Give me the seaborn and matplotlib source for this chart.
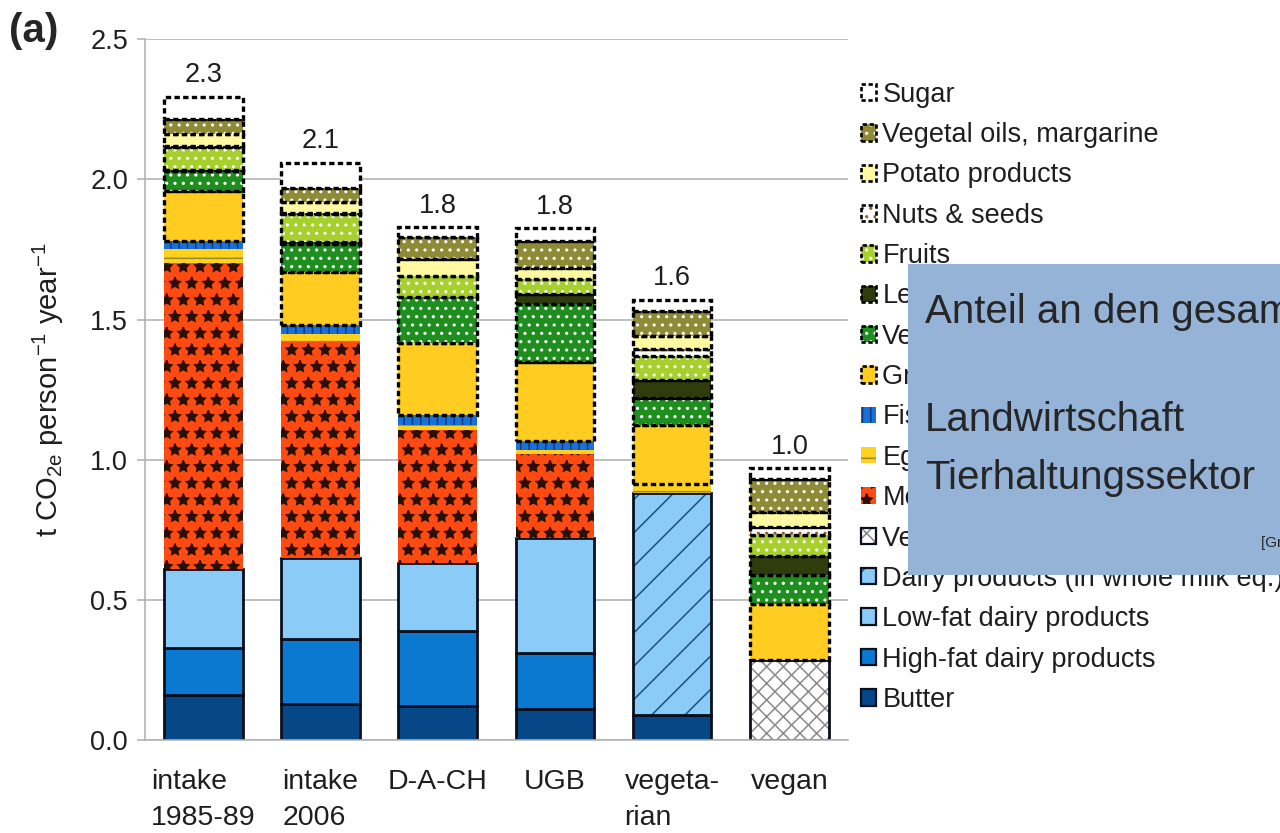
import numpy as np
import matplotlib
matplotlib.use("Agg")
import matplotlib.pyplot as plt
from matplotlib.patches import Patch, Rectangle
from matplotlib.legend_handler import HandlerTuple
from matplotlib import font_manager
import seaborn as sns

# ---------------------------------------------------------------- data
diets = ["intake 1985-89", "intake 2006", "D-A-CH", "UGB", "vegetarian", "vegan"]
diet_labels = ["intake\n1985-89", "intake\n2006", "D-A-CH", "UGB", "vegeta-\nrian", "vegan"]

# t CO2e per person and year, listed from the bottom of each stack upwards
butter      = [0.16, 0.13, 0.12, 0.11, 0.09, 0.0]
high_fat    = [0.17, 0.23, 0.27, 0.20, 0.0, 0.0]
low_fat     = [0.28, 0.29, 0.24, 0.41, 0.0, 0.0]
dairy_wm    = [0.0, 0.0, 0.0, 0.0, 0.79, 0.0]
vegan_subst = [0.0, 0.0, 0.0, 0.0, 0.0, 0.285]
meat        = [1.09, 0.77, 0.475, 0.30, 0.0, 0.0]
eggs        = [0.05, 0.03, 0.02, 0.015, 0.035, 0.0]
fish        = [0.03, 0.03, 0.035, 0.03, 0.0, 0.0]
grain       = [0.18, 0.19, 0.255, 0.285, 0.21, 0.20]
vegetables  = [0.07, 0.10, 0.165, 0.205, 0.095, 0.105]
legumes     = [0.005, 0.005, 0.0, 0.035, 0.065, 0.065]
fruits      = [0.08, 0.10, 0.075, 0.055, 0.085, 0.075]
nuts        = [0.005, 0.005, 0.0, 0.0, 0.025, 0.03]
potato      = [0.04, 0.04, 0.06, 0.04, 0.045, 0.055]
oils        = [0.055, 0.05, 0.08, 0.095, 0.09, 0.115]
sugar       = [0.08, 0.09, 0.035, 0.045, 0.04, 0.04]

y_ticks = [0.0, 0.5, 1.0, 1.5, 2.0, 2.5]

# (legend label, values, fill colour, hatch, hatch colour, border style)
layers = [
    ("Butter", butter, "#064887", None, None, "solid"),
    ("High-fat dairy products", high_fat, "#0B79CF", None, None, "solid"),
    ("Low-fat dairy products", low_fat, "#8ACBF8", None, None, "solid"),
    ("Dairy products (in whole milk eq.)", dairy_wm, "#8ACBF8", "/", "#1F4F80", "solid"),
    ("Vegan substitutes", vegan_subst, "#FFFFFF", "xx", "#8A8A8A", "solid"),
    ("Meat", meat, "#FF4A12", "*", "#2A0F05", None),
    ("Eggs", eggs, "#FFD21E", "-", "#9A8A2A", None),
    ("Fish", fish, "#1B70D6", "||", "#0B3A8A", None),
    ("Grain products", grain, "#FFCC22", None, None, "dashed"),
    ("Vegetables", vegetables, "#1E8F1E", "..", "#FFFFFF", "dashed"),
    ("Legumes", legumes, "#2F3C0C", None, None, "dashed"),
    ("Fruits", fruits, "#A8D02C", "..", "#FFFFFF", "dashed"),
    ("Nuts & seeds", nuts, "#FFFFFF", "..", "#9A5A24", "dashed"),
    ("Potato products", potato, "#FFFAA2", None, None, "dashed"),
    ("Vegetal oils, margarine", oils, "#8E8A36", "..", "#FFFFFF", "dashed"),
    ("Sugar", sugar, "#FFFFFF", None, None, "dashed"),
]

# ---------------------------------------------------------------- style
sns.set_style("white")
avail = {f.name for f in font_manager.fontManager.ttflist}
base_font = "Liberation Sans" if "Liberation Sans" in avail else "DejaVu Sans"
narrow_font = "Liberation Sans Narrow" if "Liberation Sans Narrow" in avail else base_font
plt.rcParams["font.family"] = [base_font, "DejaVu Sans"]
plt.rcParams["hatch.linewidth"] = 1.1
plt.rcParams["mathtext.fontset"] = "custom"
plt.rcParams["mathtext.rm"] = base_font

BAR_W = 0.67
DASH = (0, (1.6, 1.0))
GRID = "#b4b4b4"
TXT = "#1e1e1e"

fig = plt.figure(figsize=(12.8, 8.33), dpi=100)
ax = fig.add_axes([0.113, 0.1116, 0.5495, 0.8414])


def bars(values, bottoms, **style):
    """Draw one stacked segment per diet with seaborn and restyle the new patches."""
    n0 = len(ax.patches)
    sns.barplot(x=diets, y=values, order=diets, color="white", saturation=1,
                width=BAR_W, errorbar=None, ax=ax)
    for p, v, b in zip(ax.patches[n0:], values, bottoms):
        p.set_y(b)
        p.set(**style)
        p.set_visible(v > 0)


edge_styles = {
    "solid": dict(edgecolor="#0a0f1e", linewidth=2.0, linestyle="solid"),
    "dashed": dict(edgecolor="black", linewidth=2.4, linestyle=DASH),
}

bottom = np.zeros(len(diets))
handles = []
for z, (label, vals, face, hatch, hcol, border) in enumerate(layers):
    vals = np.asarray(vals, dtype=float)
    zb = 2 + z * 0.01
    parts = []
    bars(vals, bottom, facecolor=face, edgecolor="none", linewidth=0, zorder=zb)
    parts.append(Patch(facecolor=face, edgecolor="none", linewidth=0))
    if hatch:
        bars(vals, bottom, facecolor="none", edgecolor=hcol, linewidth=0,
             hatch=hatch, zorder=zb + 0.001)
        parts.append(Patch(facecolor="none", edgecolor=hcol, linewidth=0, hatch=hatch))
    if border:
        bars(vals, bottom, facecolor="none", zorder=zb + 0.002, **edge_styles[border])
        es = dict(edge_styles[border])
        es["linewidth"] = es["linewidth"] * 0.8
        parts.append(Patch(facecolor="none", **es))
    handles.append((tuple(parts), label))
    bottom = bottom + vals

totals = bottom
for i, t in enumerate(totals):
    ax.text(i, t + 0.03, f"{t:.1f}", ha="center", va="bottom", fontsize=19.5, color=TXT)

# ---------------------------------------------------------------- axes
ax.set_xlim(-0.5, 5.5)
ax.set_ylim(0, 2.5)
ax.set_yticks(y_ticks)
ax.set_yticklabels([f"{v:.1f}" for v in y_ticks], fontsize=19.5, color=TXT)
ax.set_xticks(range(len(diets)))
ax.set_xticklabels(diet_labels, fontsize=20.5, color=TXT,
                   linespacing=1.48, multialignment="left")
ax.set_xticks(np.arange(-0.5, 6.0, 1.0), minor=True)
ax.tick_params(axis="x", which="major", length=0, pad=21)
ax.tick_params(axis="x", which="minor", length=10, width=1.2, color=GRID, direction="out")
ax.tick_params(axis="y", length=6, width=1.2, color=GRID, direction="out", pad=6, left=True)
ax.set_xlabel("")
ax.set_ylabel(r"t CO$_{\mathregular{2e}}$ person$^{\mathregular{-1}}$ year$^{\mathregular{-1}}$",
              fontsize=21, labelpad=17, color=TXT)
ax.yaxis.grid(True, color=GRID, linewidth=1.2)
ax.xaxis.grid(False)
ax.set_axisbelow(True)
for side in ("top", "right"):
    ax.spines[side].set_visible(False)
for side in ("left", "bottom"):
    ax.spines[side].set_color(GRID)
    ax.spines[side].set_linewidth(1.2)

fig.text(0.007, 0.963, "(a)", fontsize=29, fontweight="bold", va="center", ha="left")

# legend: top entry first
hs = [h for h, _ in handles][::-1]
ls = [l for _, l in handles][::-1]
fig.legend(hs, ls, handler_map={tuple: HandlerTuple(ndivide=1, pad=0)},
           loc="upper left", bbox_to_anchor=(0.673, 0.902), frameon=False,
           fontsize=19.5, labelspacing=0.53, handlelength=0.55, handleheight=0.55,
           handletextpad=0.22, borderaxespad=0, borderpad=0, labelcolor=TXT)

# annotation panel
fig.patches.append(Rectangle((0.7094, 0.3097), 0.2906, 0.3733, transform=fig.transFigure,
                             facecolor="#95B3D7", edgecolor="none", zorder=20))
fig.text(0.7227, 0.6255, "Anteil an den gesamten Treibhausgasemissionen", fontsize=29,
         family=[narrow_font, "DejaVu Sans"], va="center", ha="left", zorder=21)
fig.text(0.7227, 0.4958, "Landwirtschaft", fontsize=29,
         family=[narrow_font, "DejaVu Sans"], va="center", ha="left", zorder=21)
fig.text(0.7227, 0.4262, "Tierhaltungssektor", fontsize=29,
         family=[narrow_font, "DejaVu Sans"], va="center", ha="left", zorder=21)
fig.text(0.9855, 0.348, "[Grünberg et al.]", fontsize=11,
         family=[narrow_font, "DejaVu Sans"], va="center", ha="left", zorder=21)

fig.savefig("out.png", dpi=100, facecolor="white")
